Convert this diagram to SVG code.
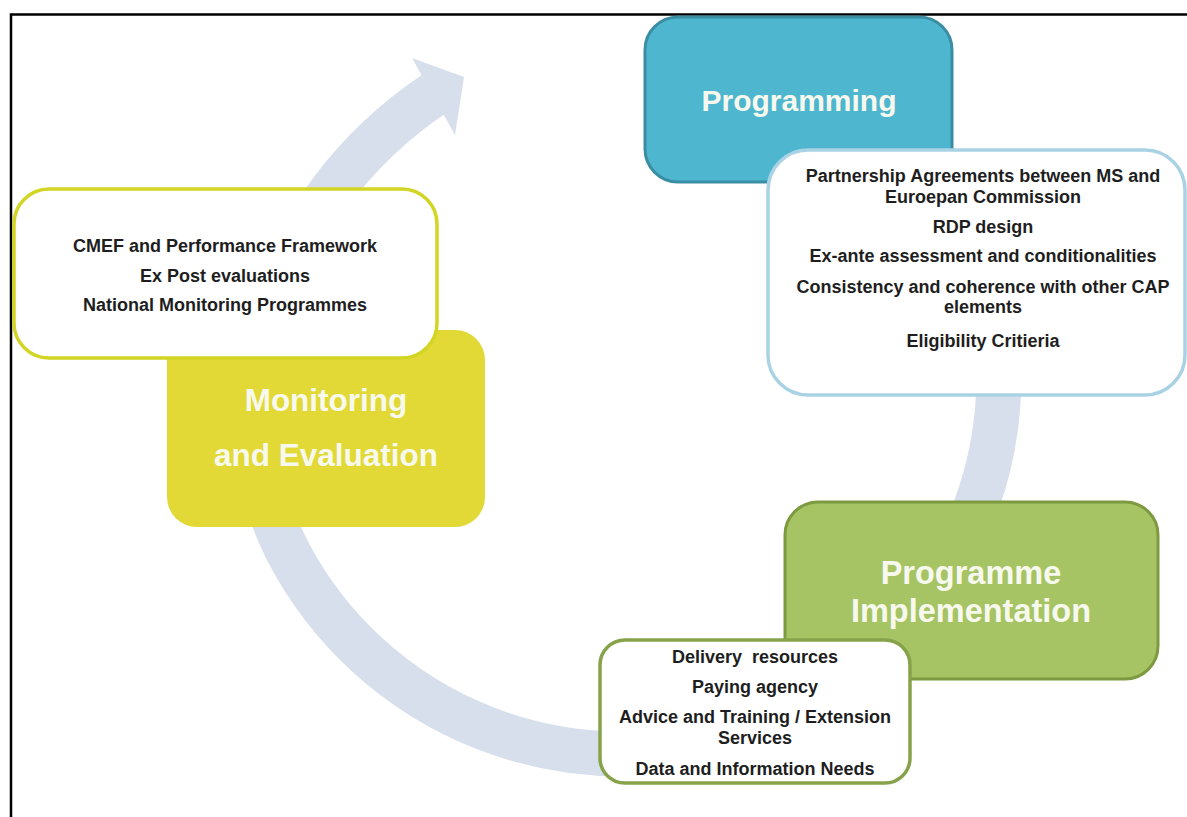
<svg xmlns="http://www.w3.org/2000/svg" width="1187" height="817" viewBox="0 0 1187 817">
  <style>
    .title { font-family: "Liberation Sans", Arial, sans-serif; font-weight: bold; fill: #f7f9ee; text-anchor: middle; }
    .detail { font-family: "Liberation Sans", Arial, sans-serif; font-weight: bold; font-size: 18px; fill: #1e1e1e; text-anchor: middle; }
    .textbox { fill: #ffffff; stroke-width: 3.5; }
  </style>
  <rect x="0" y="0" width="1187" height="817" fill="#ffffff"/>
  <!-- frame -->
  <path d="M 11,817 L 11,14.5 L 1187,14.5" fill="none" stroke="#000000" stroke-width="2.5"/>

  <!-- connectors: circular cycle arrow -->
  <g id="connectors">
    <path d="M 986,279 A 377 377 0 0 1 295.5,565.5 C 201.5,402.7 276.1,200.1 434,94" fill="none" stroke="#d6dfeb" stroke-width="45"/>
    <polygon points="412,58 464,77 455,135" fill="#d6dfeb"/>
  </g>

  <!-- Programming -->
  <g id="programming">
    <rect x="645" y="17" width="307" height="165" rx="33" fill="#4eb7cf" stroke="#3b8da3" stroke-width="3"/>
    <text class="title" x="799" y="111" font-size="30">Programming</text>
  </g>
  <g id="programming-details">
    <rect class="textbox" x="768" y="150" width="417" height="245" rx="40" stroke="#a9d3e4"/>
    <text class="detail" x="983" y="182">Partnership Agreements between MS and</text>
    <text class="detail" x="983" y="203">Euroepan Commission</text>
    <text class="detail" x="983" y="233">RDP design</text>
    <text class="detail" x="983" y="262">Ex-ante assessment and conditionalities</text>
    <text class="detail" x="983" y="293">Consistency and coherence with other CAP</text>
    <text class="detail" x="983" y="313">elements</text>
    <text class="detail" x="983" y="347">Eligibility Critieria</text>
  </g>

  <!-- Monitoring and Evaluation -->
  <g id="monitoring">
    <rect x="167" y="330" width="318" height="197" rx="30" fill="#e2d936"/>
    <text class="title" x="326" y="411" font-size="31.5">Monitoring</text>
    <text class="title" x="326" y="466" font-size="31.5">and Evaluation</text>
  </g>
  <g id="monitoring-details">
    <rect class="textbox" x="14" y="189" width="423" height="169" rx="35" stroke="#d2d524"/>
    <text class="detail" x="225" y="252">CMEF and Performance Framework</text>
    <text class="detail" x="225" y="282">Ex Post evaluations</text>
    <text class="detail" x="225" y="311">National Monitoring Programmes</text>
  </g>

  <!-- Programme Implementation -->
  <g id="implementation">
    <rect x="785" y="502" width="373" height="177" rx="33" fill="#a7c464" stroke="#7d9a41" stroke-width="3"/>
    <text class="title" x="971" y="584" font-size="32.5">Programme</text>
    <text class="title" x="971" y="622" font-size="32.5">Implementation</text>
  </g>
  <g id="implementation-details">
    <rect class="textbox" x="600" y="640" width="310" height="143" rx="25" stroke="#86a24a"/>
    <text class="detail" x="755" y="663" xml:space="preserve">Delivery  resources</text>
    <text class="detail" x="755" y="693">Paying agency</text>
    <text class="detail" x="755" y="723">Advice and Training / Extension</text>
    <text class="detail" x="755" y="744">Services</text>
    <text class="detail" x="755" y="775">Data and Information Needs</text>
  </g>
</svg>
